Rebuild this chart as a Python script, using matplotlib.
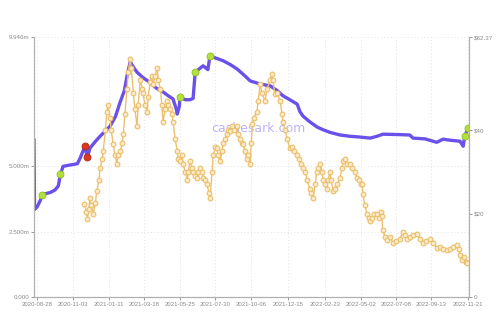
import matplotlib
matplotlib.use("Agg")
import matplotlib.pyplot as plt
import pandas as pd
import numpy as np

plt.rcParams['font.family'] = ['Liberation Sans', 'DejaVu Sans']

base_date = pd.Timestamp("2020-08-28")

# Left-axis series (millions), day offsets from base_date
cap_days = [-6, -5, 0, 6, 10, 15, 25, 34, 40, 44, 49, 62, 76, 81, 87, 91, 93, 95, 100, 110,
            119, 129, 138, 148, 157, 165, 170, 176, 182, 189, 200, 214, 225, 238, 248, 257,
            263, 265, 269, 270, 280, 289, 295, 299, 308, 314, 320, 323, 327, 337, 352, 365,
            378, 391, 403, 422, 441, 454, 465, 478, 492, 497, 503, 516, 530, 541, 554, 573,
            592, 611, 630, 643, 654, 677, 705, 711, 734, 756, 768, 781, 800, 806, 809, 815]
cap_vals = [6.04, 3.35, 3.45, 3.7, 3.92, 3.95, 4.0, 4.1, 4.25, 4.69, 5.0, 5.05, 5.1, 5.3,
            5.6, 5.77, 5.5, 5.35, 5.7, 5.95, 6.15, 6.35, 6.54, 6.9, 7.46, 7.9, 8.46, 9.0,
            8.8, 8.6, 8.4, 8.2, 8.0, 7.85, 7.7, 7.58, 7.2, 7.0, 7.3, 7.65, 7.55, 7.55, 7.6,
            8.6, 8.75, 8.85, 8.75, 8.7, 9.23, 9.15, 9.04, 8.9, 8.73, 8.5, 8.27, 8.15, 8.08,
            7.9, 7.7, 7.55, 7.38, 7.1, 6.92, 6.7, 6.5, 6.4, 6.3, 6.2, 6.15, 6.12, 6.08, 6.15,
            6.23, 6.22, 6.2, 6.08, 6.05, 5.92, 6.04, 6.0, 5.96, 5.77, 6.15, 6.46]

green_days = [10, 44, 270, 299, 327, 809, 815]
green_vals = [3.92, 4.69, 7.65, 8.6, 9.23, 6.15, 6.46]
red_days = [91, 95]
red_vals = [5.77, 5.35]

# Right-axis series (price $)
price_days = [89, 93, 95, 98, 100, 102, 106, 110, 113, 117, 119, 123, 125, 129, 132, 134, 138,
              140, 144, 147, 151, 153, 157, 161, 163, 166, 170, 172, 176, 178, 182, 185, 189,
              191, 195, 199, 200, 204, 208, 210, 214, 217, 219, 223, 227, 229, 233, 236, 238,
              242, 246, 248, 251, 255, 257, 261, 265, 267, 270, 274, 276, 280, 284, 286, 289,
              293, 295, 299, 303, 304, 308, 312, 314, 318, 321, 325, 327, 331, 333, 337, 340,
              342, 346, 350, 352, 356, 359, 361, 365, 369, 373, 378, 380, 384, 388, 390, 393,
              397, 399, 403, 405, 407, 410, 416, 418, 422, 425, 431, 435, 441, 444, 446, 450,
              454, 460, 463, 465, 469, 473, 478, 482, 486, 492, 495, 499, 503, 507, 511, 516,
              518, 522, 526, 529, 531, 535, 539, 541, 545, 548, 550, 554, 556, 560, 564, 567,
              573, 577, 579, 582, 586, 592, 596, 601, 605, 609, 613, 615, 616, 620, 624, 628,
              630, 633, 637, 643, 647, 650, 652, 654, 658, 662, 668, 673, 679, 686, 692, 696,
              700, 705, 711, 719, 724, 730, 736, 743, 749, 756, 762, 768, 775, 781, 787, 794,
              798, 800, 804, 807, 811, 813]
price_vals = [22.4, 20.5, 18.8, 21, 23.8, 22, 20, 22.5, 25.5, 28, 31, 33, 35, 40, 44.5, 46, 43,
              40, 36.7, 34, 32, 34, 35, 37, 39, 44, 50, 54, 57, 55, 49, 45, 41, 46, 52, 50, 49,
              46, 44.5, 48, 51.7, 53, 51, 53, 55, 52, 50, 46, 42, 45, 47, 46, 45, 44, 42, 38,
              35, 33, 32.6, 34, 32, 30, 28, 30, 32.6, 31, 30, 29, 28.6, 30, 31, 30, 28.6, 28,
              27, 25, 23.8, 30, 34, 36, 35.7, 34, 32.6, 35, 37, 38, 39, 40, 39.8, 41, 40, 41,
              39, 38, 37, 36.7, 35, 33, 34, 32, 37, 41.4, 43, 44.5, 47, 51, 49, 47, 50, 52,
              53.6, 52, 48.6, 49, 47, 44, 42, 40, 38, 35.7, 36, 35, 34, 33, 32, 31, 30, 28,
              26, 25, 23.8, 27, 30, 31, 32, 30, 28, 27, 26, 28, 30, 28, 25.5, 26, 27, 28.6,
              31, 32.6, 33, 32, 32, 31, 30, 28.6, 28, 27, 27, 24.8, 22, 20, 19, 18.3, 19, 20,
              20, 19, 20.5, 19.5, 16, 14.5, 13.6, 14.5, 12.9, 13.5, 14, 15.5, 14.8, 14.0, 14.3,
              14.8, 15.2, 14, 12.9, 13.5, 14, 13, 11.7, 12, 11.5, 11.2, 11.5, 12, 12.4, 11.5,
              10, 8.8, 9.5, 8.5, 8.1]

tick_labels = ["2020-08-28", "2020-11-03", "2021-01-11", "2021-03-18", "2021-05-25",
               "2021-07-30", "2021-10-06", "2021-12-15", "2022-02-23", "2022-05-02",
               "2022-07-08", "2022-09-13", "2022-11-21"]
left_ticks = [0, 2.5, 5.0, 9.946]
left_labels = ["0.000", "2.500m", "5.000m", "9.946m"]
right_ticks = [0, 20, 40, 62.37]
right_labels = ["0", "$20", "$40", "$62.37"]

def to_dates(days):
    return base_date + pd.to_timedelta(days, unit="D")

fig = plt.figure(figsize=(5, 3.2), dpi=100)
ax1 = fig.add_axes([0.068, 0.072, 0.870, 0.812])
ax2 = ax1.twinx()

ax1.plot(to_dates(cap_days), cap_vals, color="#6B50EA", lw=2.4, solid_capstyle="round",
         solid_joinstyle="round", zorder=2)
ax1.plot(to_dates(green_days), green_vals, "o", ms=5, mfc="#B4E03C", mec="#8CC020", mew=0.6, zorder=3)
ax1.plot(to_dates(red_days), red_vals, "o", ms=5, mfc="#D83A1E", mec="#B02810", mew=0.6, zorder=3)

ax2.plot(to_dates(price_days), price_vals, color="#EDC070", lw=1.0, marker="o", ms=3.4,
         mfc="#FBEBCB", mec="#EBBE68", mew=0.8, zorder=2)

xt = pd.to_datetime(tick_labels)
ax1.set_xticks(xt)
ax1.set_xticklabels(tick_labels)
ax1.set_xlim(pd.Timestamp("2020-08-22"), pd.Timestamp("2022-11-23"))
ax1.set_ylim(0, 9.946)
ax2.set_ylim(0, 62.37)
ax1.set_yticks(left_ticks)
ax1.set_yticklabels(left_labels)
ax2.set_yticks(right_ticks)
ax2.set_yticklabels(right_labels)

for ax in (ax1, ax2):
    ax.tick_params(labelsize=4.5, colors="#8a8a8a", length=2, width=0.6, pad=1.5)
    for s in ax.spines.values():
        s.set_color("#b0b0b0")
        s.set_linewidth(0.8)
    ax.spines["top"].set_visible(False)
ax1.tick_params(axis="x", labelsize=4.3)

ax1.grid(True, color="#d8d8d8", ls=(0, (1, 3)), lw=0.6)
ax1.set_axisbelow(True)

ax1.text(0.515, 0.65, "cashesark.com", transform=ax1.transAxes, ha="center", va="center",
         fontsize=9, color="#A898F8", alpha=0.75, zorder=1, family=['DejaVu Sans'])

fig.savefig("out.png", dpi=100)
